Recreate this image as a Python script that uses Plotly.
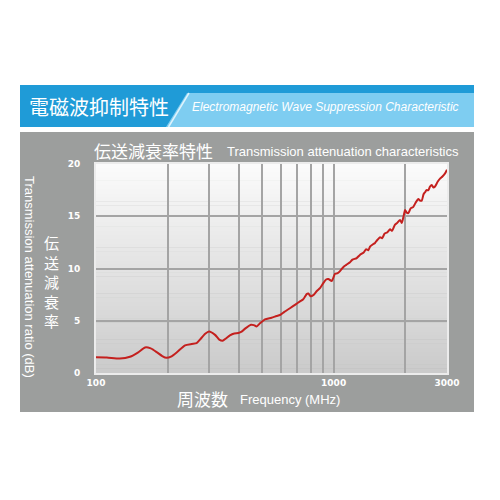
import math
import plotly.graph_objects as go

# ---------------- data ----------------
freq_mhz = [100, 111, 126, 139, 150, 161, 170, 180, 190, 198, 208, 219, 237, 253, 265,
            274, 288, 299, 317, 330, 341, 352, 366, 382, 397, 410, 424, 449, 462, 474,
            490, 514, 548, 575, 595, 620, 655, 690, 722, 745, 770, 783, 800, 821, 850,
            878, 905, 930, 950, 982, 1014, 1040, 1064, 1100, 1130, 1172, 1200, 1251,
            1290, 1334, 1370, 1400, 1423, 1460, 1494, 1530, 1568, 1600, 1640, 1680,
            1728, 1760, 1813, 1850, 1904, 1935, 1970, 1998, 2030, 2063, 2110, 2165,
            2220, 2273, 2310, 2349, 2390, 2425, 2460, 2504, 2545, 2588, 2630, 2672,
            2740, 2804, 2870, 2944, 3000]
atten_db = [1.50, 1.48, 1.38, 1.55, 1.95, 2.45, 2.35, 2.00, 1.62, 1.45, 1.60, 1.98, 2.65,
            2.78, 2.85, 3.20, 3.75, 3.97, 3.65, 3.20, 3.08, 3.30, 3.60, 3.78, 3.82, 3.95,
            4.25, 4.62, 4.58, 4.45, 4.75, 5.13, 5.29, 5.45, 5.55, 5.85, 6.20, 6.55, 6.85,
            7.05, 7.55, 7.60, 7.35, 7.45, 7.85, 8.15, 8.60, 8.95, 9.00, 8.80, 9.50, 9.55,
            9.75, 10.15, 10.35, 10.60, 10.85, 11.00, 11.30, 11.50, 11.85, 11.75, 12.10,
            12.30, 12.45, 12.75, 13.00, 12.90, 13.35, 13.45, 13.75, 13.60, 14.20, 14.35,
            14.65, 14.35, 15.00, 15.60, 15.35, 15.30, 15.75, 15.90, 16.35, 16.65, 16.50,
            16.50, 17.10, 17.30, 17.50, 17.50, 17.85, 18.00, 17.75, 17.85, 18.30, 18.60,
            18.80, 19.10, 19.45]

x_tick_vals = [100, 1000, 3000]
x_tick_text = ["100", "1000", "3000"]
x_grid_vals = [200, 300, 400, 500, 600, 700, 800, 900, 2000]
y_tick_vals = [0, 5, 10, 15, 20]

header_jp = "電磁波抑制特性"
header_en = "Electromagnetic Wave Suppression Characteristic"
title_jp = "伝送減衰率特性"
title_en = "Transmission attenuation characteristics"
xtitle_jp = "周波数"
xtitle_en = "Frequency (MHz)"
ytitle_jp = "伝送減衰率"
ytitle_en = "Transmission attenuation ratio (dB)"

# ---------------- layout helpers ----------------
PAGE_OFF = 8          # browser body margin
W = H = 500 - PAGE_OFF
L, R, T, B = 96, 447, 164, 373   # plot area in page pixels


def px(x):
    return (x - L) / (R - L)


def py(y):
    return (B - y) / (B - T)


CJK = "Noto Sans CJK JP"
LAT = "Liberation Sans Narrow, Liberation Sans, sans-serif"
WHITE = "#ffffff"

shapes = []
# blue header bar
shapes.append(dict(type="rect", xref="paper", yref="paper", layer="below",
                   x0=px(20), x1=px(474), y0=py(127), y1=py(85),
                   fillcolor="#7ecdf1", line=dict(width=0)))
path = "M {},{} L {},{} L {},{} L {},{} L {},{} L {},{} Z".format(
    px(20), py(85), px(474), py(85), px(474), py(93), px(187), py(93),
    px(166), py(127), px(20), py(127))
shapes.append(dict(type="path", xref="paper", yref="paper", layer="below",
                   path=path, fillcolor="#1f9bd7", line=dict(width=0)))
shapes.append(dict(type="line", xref="paper", yref="paper", layer="below",
                   x0=px(189), y0=py(93), x1=px(168.5), y1=py(127),
                   line=dict(color="rgba(255,255,255,0.75)", width=1.5)))
# gray panel
shapes.append(dict(type="rect", xref="paper", yref="paper", layer="below",
                   x0=px(20), x1=px(474), y0=py(412), y1=py(132),
                   fillcolor="#9c9e9d", line=dict(width=0)))
# plot background gradient
N = 50
top_c, bot_c = (251, 251, 251), (203, 203, 203)
for i in range(N):
    t = (i + 0.5) / N
    c = tuple(int(round(bot_c[k] + (top_c[k] - bot_c[k]) * t)) for k in range(3))
    shapes.append(dict(type="rect", xref="paper", yref="paper", layer="below",
                       x0=0, x1=1, y0=i / N, y1=(i + 1) / N + 0.002,
                       fillcolor="rgb({},{},{})".format(*c), line=dict(width=0)))

annotations = [
    dict(text=header_jp, x=px(27), y=py(106), xanchor="left", yanchor="middle",
         font=dict(family=CJK, size=20, color=WHITE)),
    dict(text=header_en, x=px(190), y=py(107), xanchor="left", yanchor="middle",
         font=dict(family=LAT, size=12, color=WHITE, style="italic")),
    dict(text=title_jp, x=px(92), y=py(150), xanchor="left", yanchor="middle",
         font=dict(family=CJK, size=17, color=WHITE)),
    dict(text=title_en, x=px(225), y=py(151), xanchor="left", yanchor="middle",
         font=dict(family=LAT, size=13, color=WHITE)),
    dict(text=xtitle_jp, x=px(175), y=py(398), xanchor="left", yanchor="middle",
         font=dict(family=CJK, size=17, color=WHITE)),
    dict(text=xtitle_en, x=px(238), y=py(399), xanchor="left", yanchor="middle",
         font=dict(family=LAT, size=13, color=WHITE)),
    dict(text=ytitle_en, x=px(30), y=py(277), xanchor="center", yanchor="middle",
         textangle=90, font=dict(family=LAT, size=13, color=WHITE)),
    dict(text="<br>".join(ytitle_jp), x=px(51), y=py(281), xanchor="center",
         yanchor="middle", align="center",
         font=dict(family=CJK, size=15, color=WHITE)),
]
for a in annotations:
    a.update(xref="paper", yref="paper", showarrow=False)

fig = go.Figure()
fig.add_trace(go.Scatter(x=freq_mhz, y=atten_db, mode="lines",
                         line=dict(color="#c4201e", width=2, shape="spline", smoothing=0.6),
                         hoverinfo="skip", showlegend=False))

tickfont = dict(family="DejaVu Sans", size=9, color=WHITE, weight="bold")
GRID = "#a4a4a4"
fig.update_layout(
    width=W, height=H,
    margin=dict(l=L - PAGE_OFF, r=500 - R, t=T - PAGE_OFF, b=500 - B, pad=0),
    paper_bgcolor="#ffffff", plot_bgcolor="rgba(0,0,0,0)",
    shapes=shapes, annotations=annotations, showlegend=False,
    xaxis=dict(type="log", range=[2, math.log10(3000)], tickmode="array",
               tickvals=x_tick_vals, ticktext=x_tick_text, ticks="",
               showgrid=True, gridcolor=GRID, gridwidth=2,
               minor=dict(tickmode="array", tickvals=x_grid_vals, showgrid=True,
                          gridcolor=GRID, gridwidth=2, ticks=""),
               tickfont=tickfont, zeroline=False,
               showline=True, mirror=True, linecolor="#ececec", linewidth=2),
    yaxis=dict(range=[0, 20], tickmode="array", tickvals=y_tick_vals, ticks="",
               showgrid=True, gridcolor=GRID, gridwidth=2, tickfont=tickfont,
               ticklabelstandoff=12, zeroline=False,
               showline=True, mirror=True, linecolor="#ececec", linewidth=2),
)

fig.write_html("out.html")
